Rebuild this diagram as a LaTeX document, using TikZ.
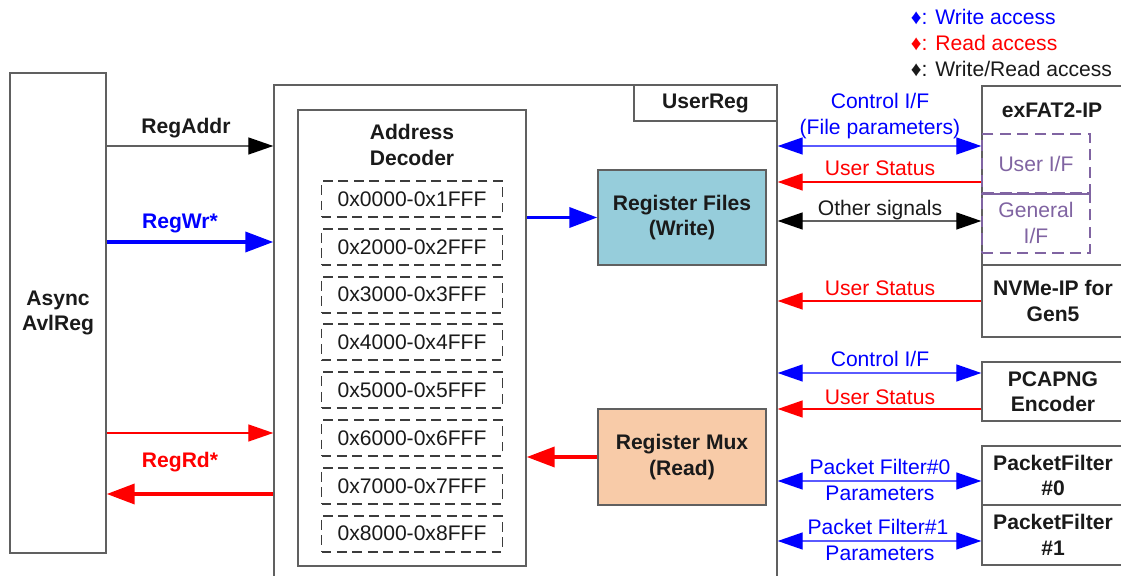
\documentclass[tikz,border=0pt]{standalone}
\usepackage{fontspec}
\setmainfont{Liberation Sans}
\usepackage{xcolor}
\usetikzlibrary{arrows.meta,positioning,calc}
\definecolor{ink}{HTML}{1A1A1A}
\definecolor{boxgray}{HTML}{606060}
\definecolor{wrblue}{HTML}{0000FF}
\definecolor{lineblue}{HTML}{5A5AFF}
\definecolor{rdred}{HTML}{FF0000}
\definecolor{ifpurple}{HTML}{8064A2}
\definecolor{filebg}{HTML}{96CDDB}
\definecolor{muxbg}{HTML}{F8CBA8}
\newcommand{\px}{0.025cm}
\newcommand{\lbl}{\fontsize{15}{18}\selectfont}
\tikzset{
  every node/.style={font=\lbl,align=center,text=ink},
  bfont/.style={font=\lbl\bfseries},
  box/.style={draw=boxgray,fill=white,line width=1pt,inner sep=2pt},
  rngbox/.style={draw=ink!85,dash pattern=on 7pt off 4pt,line width=1.3pt,
                 minimum width=181*\px,minimum height=36*\px,inner sep=0pt},
  filebox/.style={box,fill=filebg,font=\lbl\bfseries,
                  minimum width=168*\px,minimum height=95*\px},
  muxbox/.style={box,fill=muxbg,font=\lbl\bfseries,
                 minimum width=168*\px,minimum height=96*\px},
  ipbox/.style={box,font=\lbl\bfseries,minimum width=142*\px},
  ifbox/.style={draw=ifpurple,dash pattern=on 8pt off 4.5pt,line width=1.2pt,
                text=ifpurple,minimum width=108*\px,inner sep=0pt},
  bluetxt/.style={text=wrblue},
  redtxt/.style={text=rdred},
  blackarr/.style={-{Triangle[length=6.25mm,width=4.25mm,color=black]},
                   line width=1pt,draw=boxgray},
  bluearr/.style={-{Triangle[length=7mm,width=5mm]},line width=2.6pt,
                  draw=wrblue},
  redarr/.style={-{Triangle[length=7mm,width=5mm]},line width=2.6pt,
                 draw=rdred},
  redthin/.style={-{Triangle[length=6.25mm,width=4.25mm]},line width=1pt,
                  draw=rdred},
  bluebi/.style={{Triangle[length=6.25mm,width=4.25mm,color=wrblue]}-%
                 {Triangle[length=6.25mm,width=4.25mm,color=wrblue]},
                 line width=1pt,draw=lineblue},
  blackbi/.style={{Triangle[length=6.25mm,width=4.25mm,color=black]}-%
                  {Triangle[length=6.25mm,width=4.25mm,color=black]},
                  line width=1pt,draw=boxgray}
}
\begin{document}
\begin{tikzpicture}[x=0.025cm,y=-0.025cm]
  \clip (0,0) rectangle (1121,576);

  % legend
  \node[anchor=west,text=wrblue] (lgwr) at (906,17) {♦: Write access};
  \node[anchor=west,text=rdred] (lgrd) at (906,43) {♦: Read access};
  \node[anchor=west] (lgwrrd) at (906,69) {♦: Write/Read access};

  % master side
  \node[box,bfont,minimum width=96*\px,minimum height=480*\px] (async)
    at (58,313) {Async\\AvlReg};

  % UserReg block
  \node[box,minimum width=503*\px,minimum height=520*\px] (userreg)
    at (525.5,345) {};
  \node[box,bfont,minimum width=143*\px,minimum height=36*\px] (urtag)
    at (705.5,103) {UserReg};
  \node[box,minimum width=228*\px,minimum height=456*\px] (dec)
    at (412,338) {};
  \node[bfont] (dectitle) at (412,145) {Address\\Decoder};
  \foreach \i/\lab in {0/0x0000-0x1FFF,1/0x2000-0x2FFF,2/0x3000-0x3FFF,
                       3/0x4000-0x4FFF,4/0x5000-0x5FFF,5/0x6000-0x6FFF,
                       6/0x7000-0x7FFF,7/0x8000-0x8FFF}{
    \node[rngbox] (rng\i) at (412,{199+47.8*\i}) {\lab};
  }
  \node[filebox] (regfile) at (682,217.5) {Register Files\\(Write)};
  \node[muxbox] (regmux) at (682,457) {Register Mux\\(Read)};

  % slave side
  \node[ipbox,minimum height=179*\px] (exfat) at (1053,175.5) {};
  \node[bfont] (exfattitle) at (1052,110) {exFAT2-IP};
  \node[ifbox,minimum height=59*\px] (usrif) at (1036,163.5) {User I/F};
  \node[ifbox,minimum height=60*\px] (genif) at (1036,223) {General\\I/F};
  \draw[ifpurple,line width=1.2pt] (usrif.south west) -- (usrif.south east);
  \node[ipbox,minimum height=72*\px] (nvme) at (1053,301) {NVMe-IP for\\Gen5};
  \node[ipbox,minimum height=59*\px] (pcap) at (1053,391.5) {PCAPNG\\Encoder};
  \node[ipbox,minimum height=59*\px] (pf0) at (1053,475.5) {PacketFilter\\\#0};
  \node[ipbox,minimum height=60*\px] (pf1) at (1053,535) {PacketFilter\\\#1};

  % signal levels
  \coordinate (yaddr) at (0,146);
  \coordinate (ywr) at (0,242);
  \coordinate (yrdq) at (0,433);
  \coordinate (yrd) at (0,494);
  \coordinate (yctl) at (0,146);
  \coordinate (yst1) at (0,182);
  \coordinate (yoth) at (0,221);
  \coordinate (yst2) at (0,301);
  \coordinate (yctl2) at (0,373);
  \coordinate (yst3) at (0,409);
  \coordinate (ypf0) at (0,481);
  \coordinate (ypf1) at (0,541);

  % left bus
  \draw[blackarr] (async.east |- yaddr) -- (userreg.west |- yaddr);
  \draw[bluearr] (async.east |- ywr) -- (userreg.west |- ywr);
  \draw[redthin] (async.east |- yrdq) -- (userreg.west |- yrdq);
  \draw[redarr] (userreg.west |- yrd) -- (async.east |- yrd);
  \node[bfont] (addrlbl) at (186,128) {RegAddr};
  \node[bfont,text=wrblue] (wrlbl) at (180,223) {RegWr*};
  \node[bfont,text=rdred] (rdlbl) at (180,462) {RegRd*};

  % inside UserReg
  \draw[bluearr] (dec.east |- regfile.west) -- (regfile.west);
  \draw[redarr] (regmux.west) -- (dec.east |- regmux.west);

  % right bus
  \draw[bluebi] (userreg.east |- yctl) -- (exfat.west |- yctl);
  \draw[redthin] (exfat.west |- yst1) -- (userreg.east |- yst1);
  \draw[blackbi] (userreg.east |- yoth) -- (exfat.west |- yoth);
  \draw[redthin] (nvme.west |- yst2) -- (userreg.east |- yst2);
  \draw[bluebi] (userreg.east |- yctl2) -- (pcap.west |- yctl2);
  \draw[redthin] (pcap.west |- yst3) -- (userreg.east |- yst3);
  \draw[bluebi] (userreg.east |- ypf0) -- (pf0.west |- ypf0);
  \draw[bluebi] (userreg.east |- ypf1) -- (pf1.west |- ypf1);
  \node[bluetxt] (ctllbl) at (880,116) {Control I/F\\(File parameters)};
  \node[redtxt] (st1lbl) at (880,168) {User Status};
  \node (othlbl) at (880,210) {Other signals};
  \node[redtxt] (st2lbl) at (880,288) {User Status};
  \node[bluetxt] (ctl2lbl) at (880,359) {Control I/F};
  \node[redtxt] (st3lbl) at (880,397) {User Status};
  \node[bluetxt] (pf0lbl) at (880,467) {Packet Filter\#0};
  \node[bluetxt] (pf0par) at (880,493) {Parameters};
  \node[bluetxt] (pf1lbl) at (878,527) {Packet Filter\#1};
  \node[bluetxt] (pf1par) at (880,553) {Parameters};
\end{tikzpicture}
\end{document}
